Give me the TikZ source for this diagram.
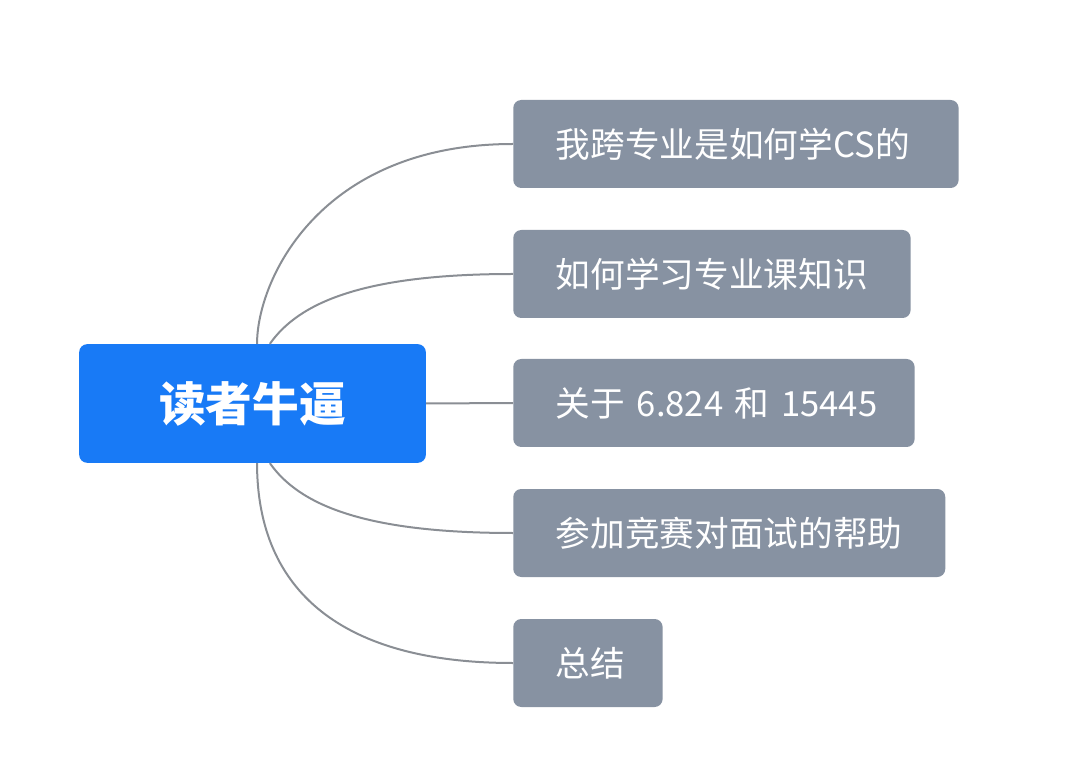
\documentclass[tikz,border=0pt]{standalone}
\usepackage{fontspec}
\newfontfamily\cjk{Noto Sans CJK SC}
\usepackage{tikz}
\usetikzlibrary{positioning}

\definecolor{rootblue}{RGB}{24,122,246}
\definecolor{leafgray}{RGB}{135,146,162}
\definecolor{linkgray}{RGB}{138,142,148}

\begin{document}
\begin{tikzpicture}[x=0.75pt,y=0.75pt,line join=round,
    root/.style={fill=rootblue, rounded corners=6pt, text=white,
        minimum width=260pt, minimum height=89pt,
        font=\cjk\bfseries\fontsize{35}{40}\selectfont},
    leaf/.style={fill=leafgray, rounded corners=6pt, text=white, anchor=west,
        inner xsep=32pt, minimum height=66pt, align=left,
        font=\cjk\fontsize{26}{30}\selectfont},
    link/.style={draw=linkgray, line width=1.5pt}]
        \useasboundingbox (0,0) rectangle (1080,757);
        \node[root] (reader) at (252.5,353.5) {读者牛逼};
        \node[leaf,text width=270pt] (cs) at (513,613) {我跨专业是如何学CS的};
        \node[leaf,text width=234pt] (course) at (513,483) {如何学习专业课知识};
        \node[leaf,text width=237pt] (mit) at (513,354) {\mbox{关于 6.824 和 15445}};
        \node[leaf,text width=260pt] (contest) at (513,224) {参加竞赛对面试的帮助};
        \node[leaf,text width=48pt] (summary) at (513,94) {\mbox{总结}};
        % links
        \draw[link] ([xshift=3.4pt]reader.north) to[out=90,in=180,out distance=48pt,in distance=145pt] (cs.west);
        \draw[link] ([xshift=13pt]reader.north) to[out=55,in=180,out distance=38pt,in distance=112pt] (course.west);
        \draw[link] (reader.east) -- (mit.west);
        \draw[link] ([xshift=13pt]reader.south) to[out=-55,in=180,out distance=38pt,in distance=112pt] (contest.west);
        \draw[link] ([xshift=3.4pt]reader.south) to[out=-90,in=180,out distance=97pt,in distance=127pt] (summary.west);
      \end{tikzpicture}
\end{document}
